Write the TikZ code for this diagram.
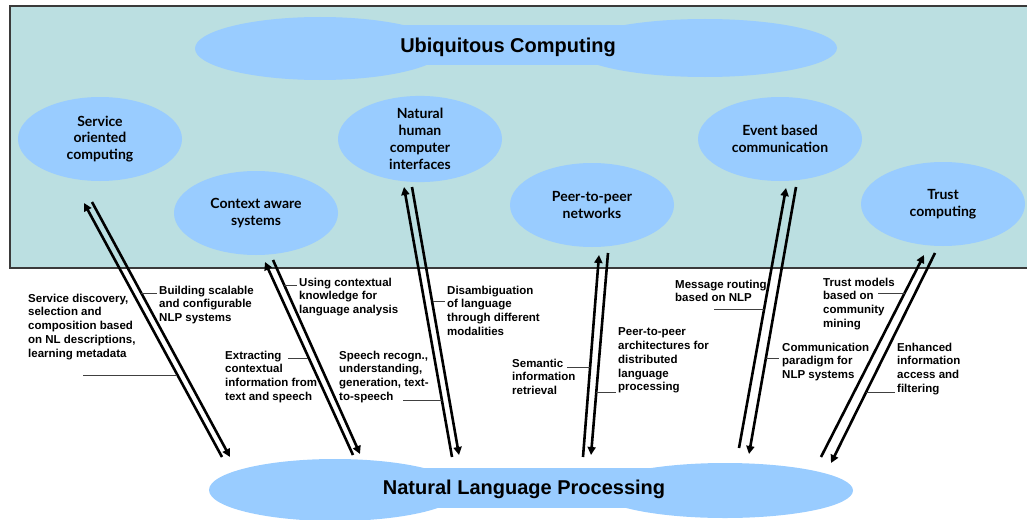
\documentclass[tikz,border=0pt]{standalone}
\usepackage{fontspec}
\setmainfont{Liberation Sans}
\newfontfamily\ellfont{Lato}
\usetikzlibrary{shapes.geometric,arrows.meta}
\definecolor{panel}{HTML}{BBDFE1}
\definecolor{blob}{HTML}{99CCFF}
\definecolor{rim}{HTML}{3A3A3A}
\definecolor{leadgray}{HTML}{404040}

\begin{document}
\begin{tikzpicture}[x=1pt,y=-1pt,
  topic/.style={ellipse, fill=blob, minimum width=164pt, minimum height=84pt,
    inner sep=0pt, align=center, font=\ellfont\bfseries\fontsize{14}{16.8}\selectfont},
  headline/.style={inner sep=0pt, font=\bfseries\fontsize{20}{24}\selectfont},
  note/.style={anchor=north west, inner sep=0pt, align=left,
    font=\bfseries\fontsize{11.5}{13.8}\selectfont},
  flow/.style={line width=2.6pt, -{Triangle[length=8pt,width=8pt]}},
  leader/.style={draw=leadgray, line width=0.9pt}]

\useasboundingbox (0,0) rectangle (1027,519);

% upper panel
\draw[rim, fill=panel, line width=1.2pt] (10,6) rectangle (1040,268);

% Ubiquitous Computing blob
\fill[blob] (320,48.5) ellipse [x radius=125pt, y radius=31.5pt];
\fill[blob] (705,48) ellipse [x radius=132pt, y radius=29pt];
\fill[blob] (400,25) rectangle (640,65);
\node[headline] (uc) at (508,47) {Ubiquitous Computing};

% Natural Language Processing blob
\fill[blob] (335,490) ellipse [x radius=126pt, y radius=31pt];
\fill[blob] (725,490.5) ellipse [x radius=128pt, y radius=27.5pt];
\fill[blob] (420,468) rectangle (650,508);
\node[headline] (nlp) at (524,489) {Natural Language Processing};

% topic ellipses
\node[topic] (soc)   at (100,139) {Service\\oriented\\computing};
\node[topic] (cas)   at (256,213) {Context aware\\systems};
\node[topic] (nhci)  at (420,139) {Natural\\human\\computer\\interfaces};
\node[topic] (p2p)   at (592,205) {Peer-to-peer\\networks};
\node[topic] (ebc)   at (780,139) {Event based\\communication};
\node[topic] (trust) at (943,204) {Trust\\computing};

% arrow end points: u = upward line (base, tip), d = downward line (base, tip)
\coordinate (u1b) at (222,457); \coordinate (u1t) at (84,203);
\coordinate (d1b) at (92,202);  \coordinate (d1t) at (230,457);
\coordinate (u2b) at (353,455); \coordinate (u2t) at (265,262);
\coordinate (d2b) at (273,260); \coordinate (d2t) at (360,454);
\coordinate (u3b) at (452,457); \coordinate (u3t) at (404,187);
\coordinate (d3b) at (412,187); \coordinate (d3t) at (459,455);
\coordinate (u4b) at (583,457); \coordinate (u4t) at (599,255);
\coordinate (d4b) at (608,253); \coordinate (d4t) at (591,455);
\coordinate (u5b) at (739,448); \coordinate (u5t) at (786,188);
\coordinate (d5b) at (796,187); \coordinate (d5t) at (749,454);
\coordinate (u6b) at (821,457); \coordinate (u6t) at (924,255);
\coordinate (d6b) at (935,253); \coordinate (d6t) at (831,463);

\foreach \i in {1,...,6}{
  \draw[flow] (u\i b) -- (u\i t);
  \draw[flow] (d\i b) -- (d\i t);
}

% labels
\node[note] (l1)  at (28,293.5)  {Service discovery,\\selection and\\composition based\\on NL descriptions,\\learning metadata};
\node[note] (l2)  at (159,285.5) {Building scalable\\and configurable\\NLP systems};
\node[note] (l3)  at (225,350.5) {Extracting\\contextual\\information from\\text and speech};
\node[note] (l4)  at (299,277.5) {Using contextual\\knowledge for\\language analysis};
\node[note] (l5)  at (339,350.5) {Speech recogn.,\\understanding,\\generation, text-\\to-speech};
\node[note] (l6)  at (447,285.5) {Disambiguation\\of language\\through different\\modalities};
\node[note] (l7)  at (512,358.5) {Semantic\\information\\retrieval};
\node[note] (l8)  at (618,327.5) {Peer-to-peer\\architectures for\\distributed\\language\\processing};
\node[note] (l9)  at (675,279.5) {Message routing\\based on NLP};
\node[note] (l10) at (782,342.5) {Communication\\paradigm for\\NLP systems};
\node[note] (l11) at (823,277.5) {Trust models\\based on\\community\\mining};
\node[note] (l12) at (897,342.5) {Enhanced\\information\\access and\\filtering};

% leader lines from label to arrow
\coordinate (k1a) at (83,375);   \coordinate (k1b) at (177,375);
\coordinate (k2a) at (141,293);  \coordinate (k2b) at (157,293);
\coordinate (k3a) at (288,358);  \coordinate (k3b) at (308,358);
\coordinate (k4a) at (284,285);  \coordinate (k4b) at (297,285);
\coordinate (k5a) at (403,400);  \coordinate (k5b) at (442,400);
\coordinate (k6a) at (433,301);  \coordinate (k6b) at (445,301);
\coordinate (k7a) at (567,367);  \coordinate (k7b) at (590,367);
\coordinate (k8a) at (596,392);  \coordinate (k8b) at (616,392);
\coordinate (k9a) at (714,309);  \coordinate (k9b) at (764,309);
\coordinate (k10a) at (766,358); \coordinate (k10b) at (779,358);
\coordinate (k11a) at (878,293); \coordinate (k11b) at (905,293);
\coordinate (k12a) at (866,392); \coordinate (k12b) at (895,392);
\foreach \i in {1,...,12}{
  \draw[leader] (k\i a) -- (k\i b);
}
\end{tikzpicture}
\end{document}
